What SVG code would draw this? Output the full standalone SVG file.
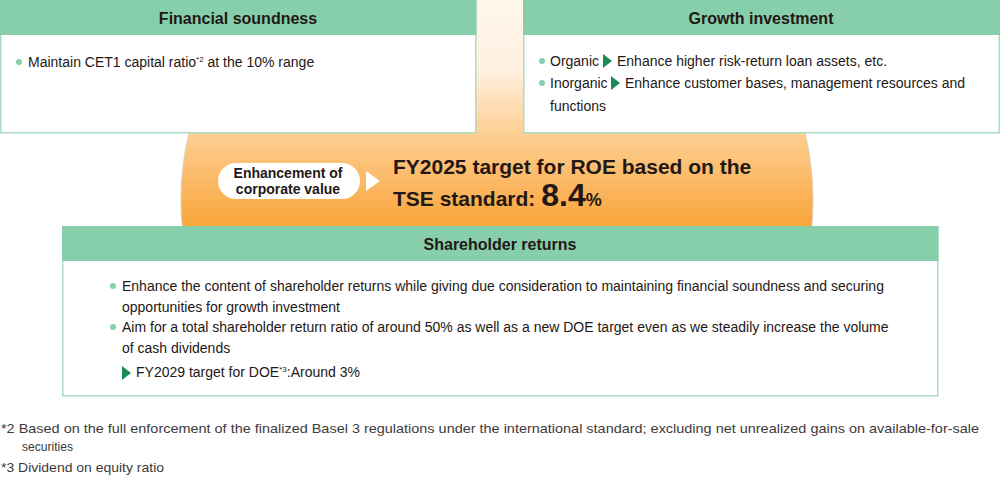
<svg xmlns="http://www.w3.org/2000/svg" width="1000" height="480" viewBox="0 0 1000 480">
<style>
.hdr{font-family:"Liberation Sans",Arial,sans-serif;font-weight:bold;font-size:16px;fill:#231815;text-anchor:middle}
.body{font-family:"Liberation Sans",Arial,sans-serif;font-size:14px;fill:#231815}
.box{fill:#fff;stroke:#a9dcc1;stroke-width:1.5}
.hbar{fill:#86cfaa}
.dot{fill:#86cfaa}
.tri{fill:#1b8a5a}
.big{font-family:"Liberation Sans",Arial,sans-serif;font-weight:bold;fill:#231815}
.foot{font-family:"Liberation Sans",Arial,sans-serif;font-size:13px;fill:#3e3a39}
</style>
<defs>
<linearGradient id="og" gradientUnits="userSpaceOnUse" x1="0" y1="0" x2="0" y2="232">
<stop offset="0" stop-color="#fff6ec"/>
<stop offset="0.3" stop-color="#fff0e0"/>
<stop offset="0.6" stop-color="#fdcc8d"/>
<stop offset="1" stop-color="#f9a234"/>
</linearGradient>
<clipPath id="clipTop"><rect x="0" y="0" width="1000" height="232"/></clipPath>
</defs>
<g id="background" clip-path="url(#clipTop)">
<ellipse cx="497" cy="200" rx="316" ry="300" fill="url(#og)" stroke="#d9c9b5" stroke-width="0.8"/>
</g>
<g id="financial-soundness">
<rect class="box" x="0.75" y="0.75" width="475" height="132"/>
<rect class="hbar" x="0" y="0" width="476.5" height="35"/>
<text class="hdr" x="238" y="24">Financial soundness</text>
<circle class="dot" cx="19" cy="62" r="3"/>
<text class="body" x="28" y="67">Maintain CET1 capital ratio<tspan font-size="8" dy="-5">*2</tspan><tspan dy="5"> at the 10% range</tspan></text>
</g>
<g id="growth-investment">
<rect class="box" x="523.75" y="0.75" width="475.5" height="132"/>
<rect class="hbar" x="523" y="0" width="477" height="35"/>
<text class="hdr" x="761" y="24">Growth investment</text>
<circle class="dot" cx="542" cy="61" r="3"/>
<text class="body" x="550" y="66">Organic</text>
<polygon class="tri" points="603,54 612,61 603,68"/>
<text class="body" x="617" y="66">Enhance higher risk-return loan assets, etc.</text>
<circle class="dot" cx="542" cy="83" r="3"/>
<text class="body" x="550" y="88">Inorganic</text>
<polygon class="tri" points="611,76 620,83 611,90"/>
<text class="body" x="625" y="88">Enhance customer bases, management resources and</text>
<text class="body" x="550" y="111">functions</text>
</g>
<g id="roe-target">
<rect x="218" y="163" width="142" height="36" rx="18" fill="#fff"/>
<text class="big" font-size="14" text-anchor="middle" x="288" y="178">Enhancement of</text>
<text class="big" font-size="14" text-anchor="middle" x="288" y="194">corporate value</text>
<polygon points="366,171 380,181 366,191" fill="#fff"/>
<text class="big" font-size="21" x="393" y="174">FY2025 target for ROE based on the</text>
<text class="big" font-size="21" x="393" y="206">TSE standard: <tspan font-size="32">8.4</tspan><tspan font-size="18">%</tspan></text>
</g>
<g id="shareholder-returns">
<rect class="box" x="62.75" y="226.75" width="875" height="169"/>
<rect class="hbar" x="62" y="226" width="876.5" height="35"/>
<text class="hdr" x="500" y="250">Shareholder returns</text>
<circle class="dot" cx="113" cy="286" r="3"/>
<text class="body" x="122" y="291">Enhance the content of shareholder returns while giving due consideration to maintaining financial soundness and securing</text>
<text class="body" x="122" y="312">opportunities for growth investment</text>
<circle class="dot" cx="113" cy="327" r="3"/>
<text class="body" x="122" y="332">Aim for a total shareholder return ratio of around 50% as well as a new DOE target even as we steadily increase the volume</text>
<text class="body" x="122" y="353">of cash dividends</text>
<polygon class="tri" points="122,366 131,373 122,380"/>
<text class="body" x="136" y="377">FY2029 target for DOE<tspan font-size="8" dy="-5">*3</tspan><tspan dy="5">:Around 3%</tspan></text>
</g>
<g id="footnotes">
<text class="foot" x="1" y="433" textLength="978" lengthAdjust="spacingAndGlyphs">*2 Based on the full enforcement of the finalized Basel 3 regulations under the international standard; excluding net unrealized gains on available-for-sale</text>
<text class="foot" x="22" y="451" textLength="51" lengthAdjust="spacingAndGlyphs">securities</text>
<text class="foot" x="1" y="472" textLength="163" lengthAdjust="spacingAndGlyphs">*3 Dividend on equity ratio</text>
</g>
</svg>
